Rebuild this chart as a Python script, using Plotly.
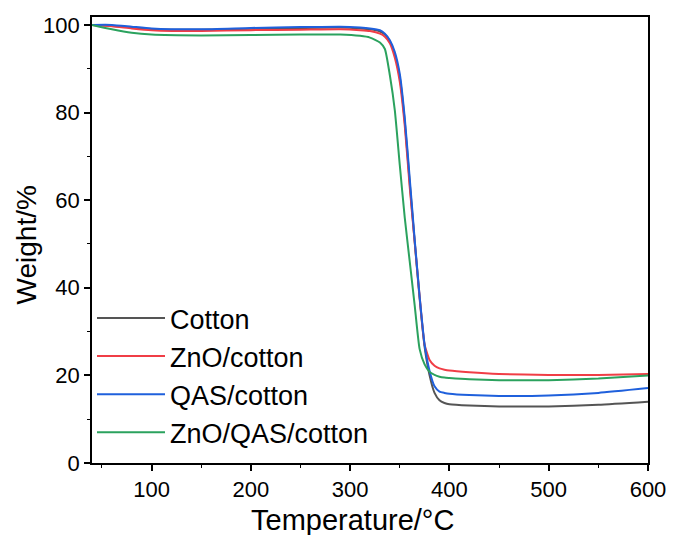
import plotly.graph_objects as go

# Temperature grid (°C)
temperature = [40, 60, 80, 100, 150, 200, 250, 290, 310, 320, 330, 335, 340, 345,
               350, 355, 360, 365, 370, 375, 380, 385, 390, 395, 400, 420, 450,
               500, 550, 600]

# Weight (%) per sample
cotton = [100, 99.8, 99.4, 99.0, 98.9, 99.1, 99.3, 99.4, 99.2, 99.0, 98.5, 97.8,
          96.2, 93.2, 88.0, 78.0, 64.0, 50.5, 37.5, 26.5, 20.0, 16.0, 14.3, 13.7,
          13.4, 13.1, 12.9, 12.9, 13.3, 14.0]
zno_cotton = [100, 99.7, 99.2, 98.8, 98.6, 98.8, 98.9, 99.0, 98.8, 98.6, 98.0,
              97.3, 95.8, 92.5, 87.0, 77.0, 63.0, 50.5, 38.0, 27.0, 23.5, 22.2,
              21.6, 21.3, 21.1, 20.7, 20.3, 20.1, 20.1, 20.3]
qas_cotton = [100, 100, 99.6, 99.2, 99.0, 99.3, 99.5, 99.6, 99.4, 99.2, 98.8,
              98.0, 96.5, 93.8, 88.8, 78.8, 65.0, 51.0, 38.0, 27.0, 21.0, 17.5,
              16.3, 16.0, 15.8, 15.5, 15.3, 15.4, 16.0, 17.1]
zno_qas_cotton = [100, 99.0, 98.2, 97.8, 97.6, 97.7, 97.8, 97.8, 97.5, 97.1,
                  96.0, 94.5, 88.5, 80.5, 68.0, 56.0, 46.0, 36.0, 26.0, 22.5,
                  20.8, 20.1, 19.7, 19.5, 19.4, 19.1, 18.9, 18.9, 19.3, 20.0]

series_names = ["Cotton", "ZnO/cotton", "QAS/cotton", "ZnO/QAS/cotton"]
series_values = [cotton, zno_cotton, qas_cotton, zno_qas_cotton]
series_colors = ["#555555", "#f03e46", "#1f60dc", "#2ba25e"]

x_ticks = [100, 200, 300, 400, 500, 600]
y_ticks = [0, 20, 40, 60, 80, 100]

FONT = "Liberation Sans, Arial, sans-serif"

fig = go.Figure()
for name, vals, col in zip(series_names, series_values, series_colors):
    fig.add_trace(go.Scatter(
        x=temperature, y=vals, name=name, mode="lines",
        line=dict(color=col, width=2, shape="spline", smoothing=0.5),
    ))

axis_common = dict(
    showline=True, linecolor="black", linewidth=1.7, mirror=True,
    ticks="outside", ticklen=6, tickwidth=1.5, tickcolor="black",
    showgrid=False, zeroline=False,
    tickfont=dict(family=FONT, size=22, color="black"),
)

fig.update_xaxes(range=[40, 600], tickvals=x_ticks,
                 minor=dict(ticks="outside", ticklen=3, tickwidth=1.2,
                            tickcolor="black", dtick=50, tick0=0),
                 **axis_common)
fig.update_yaxes(range=[0, 101.8], tickvals=y_ticks,
                 minor=dict(ticks="outside", ticklen=3, tickwidth=1.2,
                            tickcolor="black", dtick=10, tick0=0),
                 **axis_common)

fig.add_annotation(text="Temperature/°C", xref="paper", yref="paper",
                   x=(354 - 92) / 560, y=-(520 - 463) / 446,
                   xanchor="center", yanchor="middle", showarrow=False,
                   font=dict(family=FONT, size=29, color="black"))
fig.add_annotation(text="Weight/%", xref="paper", yref="paper",
                   x=-(92 - 27) / 560, y=(463 - 245) / 446, textangle=-90,
                   xanchor="center", yanchor="middle", showarrow=False,
                   font=dict(family=FONT, size=28, color="black"))

fig.update_layout(
    width=678, height=535,
    margin=dict(l=92, r=26, t=17, b=72),
    paper_bgcolor="white", plot_bgcolor="white",
    showlegend=True,
    legend=dict(x=0.0, y=0.379, xanchor="left", yanchor="top",
                bgcolor="rgba(0,0,0,0)", borderwidth=0,
                font=dict(family=FONT, size=27, color="black"),
                itemwidth=68),
)

fig.write_html("out.html")
